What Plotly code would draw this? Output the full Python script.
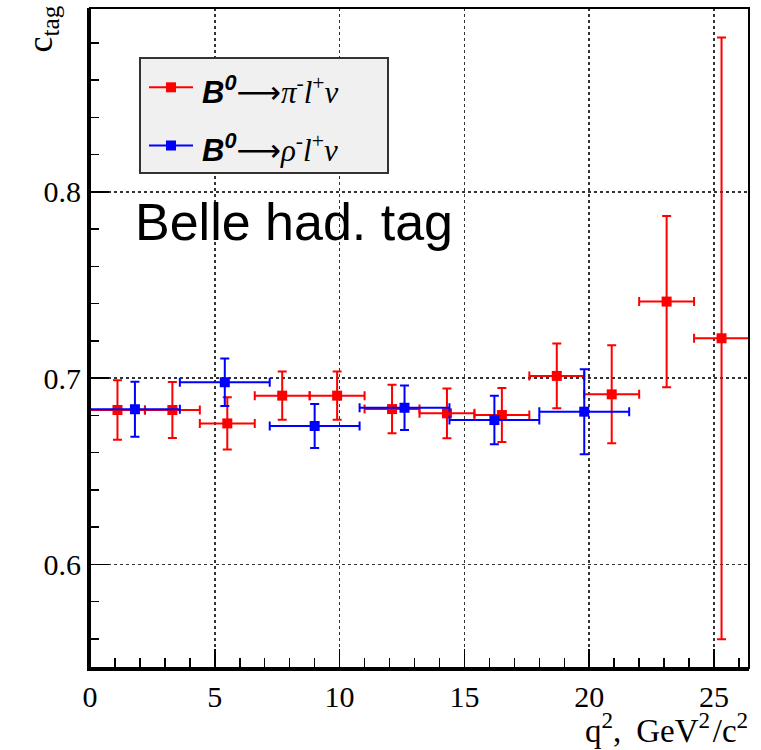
import plotly.graph_objects as go

# ---- data ----
pi_q2 = [1.1, 3.3, 5.5, 7.7, 9.9, 12.1, 14.3, 16.5, 18.7, 20.9, 23.1, 25.3]
pi_q2_err = [1.1] * 12
pi_ctag = [0.6829, 0.6829, 0.6757, 0.6906, 0.6906, 0.6834, 0.6811, 0.6802, 0.7012, 0.6913, 0.7411, 0.7214]
pi_ctag_err = [0.016, 0.015, 0.014, 0.013, 0.013, 0.013, 0.0134, 0.0145, 0.0174, 0.0263, 0.046, 0.1615]

rho_q2 = [1.8, 5.4, 9.0, 12.6, 16.2, 19.8]
rho_q2_err = [1.8] * 6
rho_ctag = [0.6833, 0.6978, 0.6743, 0.6841, 0.6775, 0.6820]
rho_ctag_err = [0.0148, 0.0127, 0.0118, 0.012, 0.013, 0.0228]

x_range = [0, 26.4]
y_range = [0.5444, 0.8987]
y_ticks = [0.6, 0.7, 0.8]
x_ticks = [0, 5, 10, 15, 20, 25]

RED = "#ff0000"
BLUE = "#0000ff"

# plot area geometry in pixels
W, H = 761, 750
L, R, T, B = 90, 12, 8, 82
PW, PH = W - L - R, H - T - B


def px(xp):
    return (xp - L) / PW


def py(yp):
    return (H - B - yp) / PH


fig = go.Figure()


def add_series(x, xe, y, ye, color, name):
    fig.add_trace(go.Scatter(
        x=x, y=y, mode="markers", name=name, showlegend=False,
        marker=dict(symbol="square", size=10, color=color, line=dict(width=0)),
        error_x=dict(type="data", array=xe, color=color, thickness=2, width=4.5),
        error_y=dict(type="data", array=ye, color=color, thickness=2, width=4.5),
        cliponaxis=True, hoverinfo="skip",
    ))


add_series(pi_q2, pi_q2_err, pi_ctag, pi_ctag_err, RED, "pi")
add_series(rho_q2, rho_q2_err, rho_ctag, rho_ctag_err, BLUE, "rho")

tickfont = dict(family="Liberation Serif", size=30, color="black")

fig.update_xaxes(
    range=x_range, tickvals=x_ticks, ticktext=[str(v) for v in x_ticks],
    ticks="inside", ticklen=19, tickwidth=1.5, tickcolor="black",
    showline=True, linewidth=3, linecolor="black", mirror=False,
    showgrid=True, gridcolor="#333333", griddash="dot", gridwidth=1.5,
    minor=dict(ticks="inside", ticklen=10, dtick=1, tick0=0, tickwidth=1.5,
               tickcolor="black", showgrid=False),
    tickfont=tickfont, zeroline=False, fixedrange=True,
)
fig.update_yaxes(
    range=y_range, tickvals=y_ticks, ticktext=["0.6", "0.7", "0.8"],
    ticks="inside", ticklen=19, tickwidth=1.5, tickcolor="black",
    showline=True, linewidth=3, linecolor="black", mirror=False,
    showgrid=True, gridcolor="#333333", griddash="dot", gridwidth=1.5,
    minor=dict(ticks="inside", ticklen=9, dtick=0.02, tick0=0, tickwidth=1.5,
               tickcolor="black", showgrid=False),
    tickfont=tickfont, zeroline=False, fixedrange=True,
)

shapes = [
    # frame
    dict(type="rect", xref="paper", yref="paper", x0=0, x1=1, y0=0, y1=1,
         line=dict(color="black", width=2), layer="above"),
    # legend box
    dict(type="rect", xref="paper", yref="paper",
         x0=px(140), x1=px(388), y0=py(173), y1=py(58),
         line=dict(color="#333333", width=2), fillcolor="#f0f0f0", layer="above"),
]
for yl, col in [(87.3, RED), (145.5, BLUE)]:
    shapes.append(dict(type="line", xref="paper", yref="paper",
                       x0=px(149), x1=px(193), y0=py(yl), y1=py(yl),
                       line=dict(color=col, width=2), layer="above"))
    shapes.append(dict(type="rect", xref="paper", yref="paper",
                       x0=px(166), x1=px(176), y0=py(yl + 5), y1=py(yl - 5),
                       line=dict(width=0), fillcolor=col, layer="above"))

sans = "font-family:'Liberation Sans'"
arrow = "<span style=\"font-family:'DejaVu Sans'\">⟶</span>"
leg_pi = (f"<span style=\"{sans}\"><b><i>B</i></b><sup><b><i>0</i></b></sup></span>"
          f"{arrow}<i>π</i><sup>-</sup><i>l</i><sup>+</sup><i>ν</i>")
leg_rho = (f"<span style=\"{sans}\"><b><i>B</i></b><sup><b><i>0</i></b></sup></span>"
           f"{arrow}<i>ρ</i><sup>-</sup><i>l</i><sup>+</sup><i>ν</i>")

annotations = [
    dict(text=leg_pi, xref="paper", yref="paper", x=px(200), y=py(90),
         xanchor="left", yanchor="middle", showarrow=False,
         font=dict(family="Liberation Serif", size=31, color="black")),
    dict(text=leg_rho, xref="paper", yref="paper", x=px(200), y=py(148),
         xanchor="left", yanchor="middle", showarrow=False,
         font=dict(family="Liberation Serif", size=31, color="black")),
    dict(text="Belle had. tag", xref="paper", yref="paper", x=px(133), y=py(222),
         xanchor="left", yanchor="middle", showarrow=False,
         font=dict(family="Liberation Sans", size=52, color="black")),
    dict(text="q<sup>2</sup>,\u2009 GeV<sup>2</sup>\u200a/c<sup>2</sup>", xref="paper", yref="paper",
         x=px(750), y=py(751), xanchor="right", yanchor="bottom", showarrow=False,
         font=dict(family="Liberation Serif", size=33, color="black")),
    dict(text="c<sub>tag</sub>", xref="paper", yref="paper", textangle=-90,
         x=px(42), y=py(4), xanchor="center", yanchor="top", showarrow=False,
         font=dict(family="Liberation Serif", size=36, color="black")),
]

fig.update_layout(
    width=W, height=H, autosize=False,
    margin=dict(l=L, r=R, t=T, b=B, pad=0),
    plot_bgcolor="white", paper_bgcolor="white",
    shapes=shapes, annotations=annotations, showlegend=False,
    hovermode=False,
)

fig.write_html("out.html", config={"displayModeBar": False, "staticPlot": True},
               post_script="document.body.style.margin='0px';document.body.style.overflow='hidden';")
